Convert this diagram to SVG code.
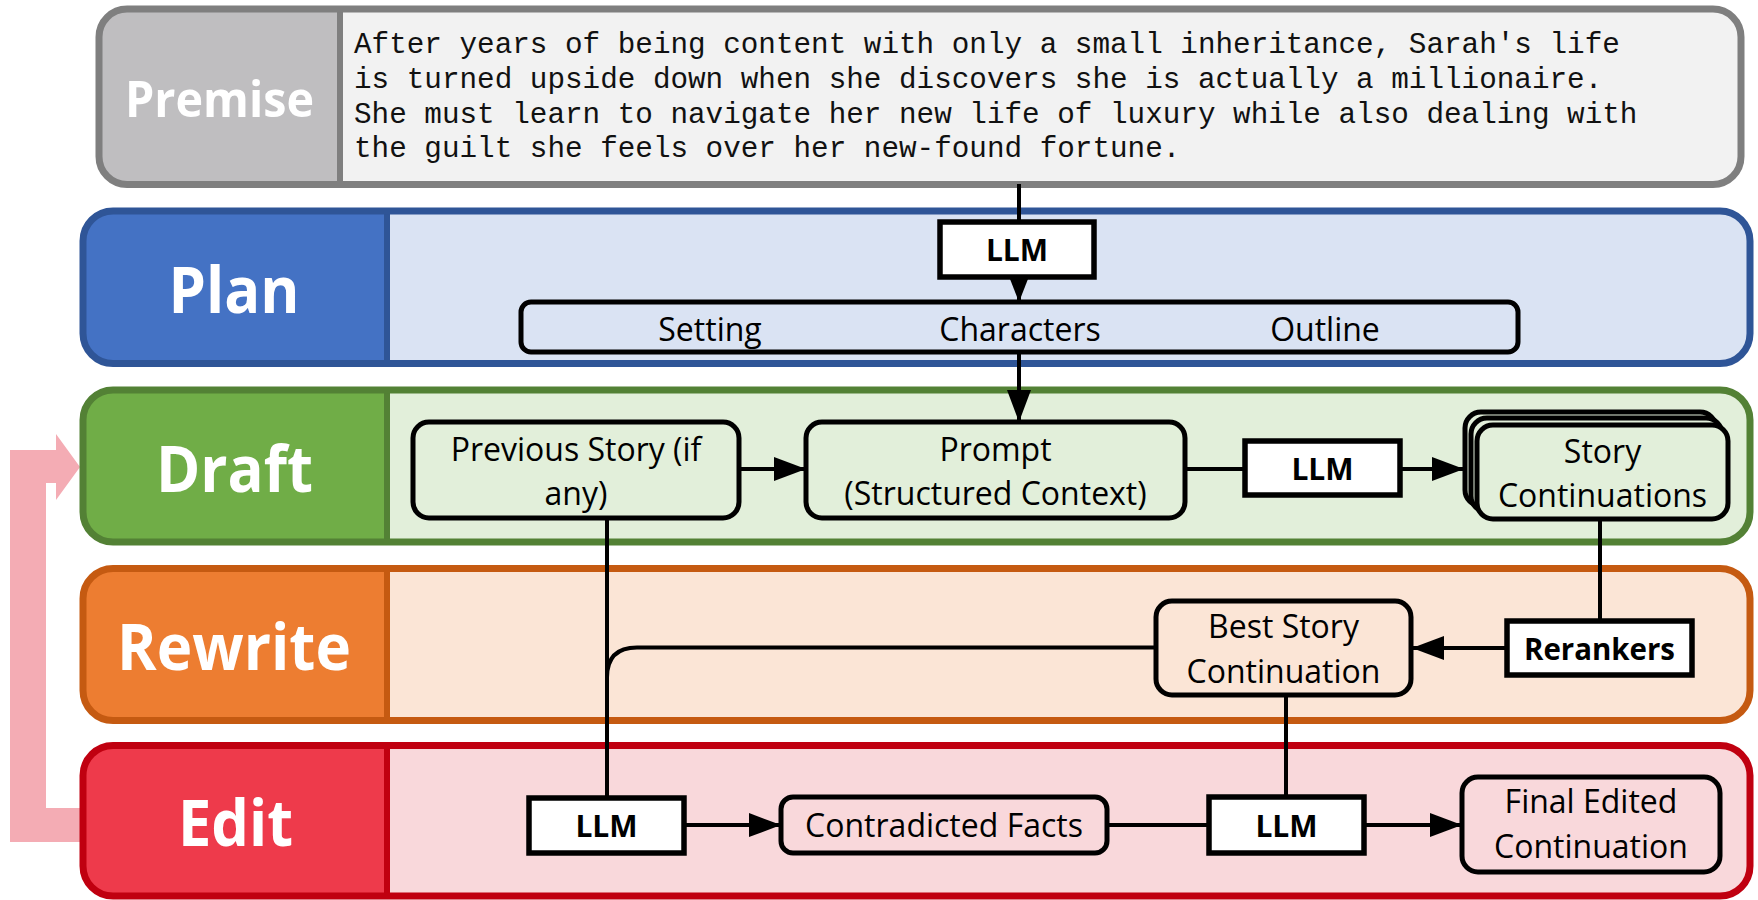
<svg xmlns="http://www.w3.org/2000/svg" width="1758" height="900" viewBox="0 0 1758 900">
  <style>
    .lbl { font-family: "Open Sans", "Noto Sans", "Liberation Sans", sans-serif; font-weight: 700; fill: #FFFFFF; text-anchor: middle; }
    .txt { font-family: "Open Sans", "Noto Sans", "Liberation Sans", sans-serif; font-size: 32px; fill: #000000; text-anchor: middle; }
    .bold { font-family: "Open Sans", "Noto Sans", "Liberation Sans", sans-serif; font-size: 30px; font-weight: 700; fill: #000000; text-anchor: middle; }
    .mono { font-family: "Liberation Mono", "DejaVu Sans Mono", monospace; font-size: 29.3px; fill: #111111; }
    .frame { fill: none; stroke-width: 7; }
    .box { stroke: #000000; stroke-width: 5; }
    .llm { fill: #FFFFFF; stroke: #000000; stroke-width: 5.5; }
    .conn { fill: none; stroke: #000000; stroke-width: 4; }
  </style>
  <defs>
    <marker id="arrow" markerUnits="userSpaceOnUse" markerWidth="32" markerHeight="24" refX="32" refY="12" orient="auto">
      <path d="M0,0 L32,12 L0,24 Z" fill="#000000"/>
    </marker>
    <marker id="arrowSmall" markerUnits="userSpaceOnUse" markerWidth="23" markerHeight="18" refX="23" refY="9" orient="auto">
      <path d="M0,0 L23,9 L0,18 Z" fill="#000000"/>
    </marker>
  </defs>

  <!-- feedback loop from Edit back to Draft -->
  <g id="loop">
    <polygon points="81,808 46,808 46,483 56,483 56,500 80,467 56,434 56,450 10,450 10,842 81,842" fill="#F4ACB4"/>
  </g>

  <!-- stage panels -->
  <g id="premise">
    <rect x="99" y="9" width="1642" height="175.5" rx="28" fill="#F2F2F2"/>
    <path d="M340 9 H127 A28 28 0 0 0 99 37 V156.5 A28 28 0 0 0 127 184.5 H340 Z" fill="#BFBEC0"/>
    <line x1="340" y1="9" x2="340" y2="184.5" stroke="#7F7F7F" stroke-width="6"/>
    <rect class="frame" x="99" y="9" width="1642" height="175.5" rx="28" stroke="#7F7F7F"/>
    <text class="lbl" x="219.5" y="117" font-size="50" textLength="189" lengthAdjust="spacingAndGlyphs">Premise</text>
    <text class="mono" x="354" y="53">After years of being content with only a small inheritance, Sarah's life</text>
    <text class="mono" x="354" y="88">is turned upside down when she discovers she is actually a millionaire.</text>
    <text class="mono" x="354" y="122.5">She must learn to navigate her new life of luxury while also dealing with</text>
    <text class="mono" x="354" y="157">the guilt she feels over her new-found fortune.</text>
  </g>

  <g id="plan">
    <rect x="83" y="211" width="1667" height="152.5" rx="30" fill="#DAE3F3"/>
    <path d="M387 211 H113 A30 30 0 0 0 83 241 V333.5 A30 30 0 0 0 113 363.5 H387 Z" fill="#4472C4"/>
    <line x1="387" y1="211" x2="387" y2="363.5" stroke="#2F5597" stroke-width="6"/>
    <rect class="frame" x="83" y="211" width="1667" height="152.5" rx="30" stroke="#2F5597"/>
    <text class="lbl" x="234" y="313" font-size="65" textLength="131" lengthAdjust="spacingAndGlyphs">Plan</text>
  </g>

  <g id="draft">
    <rect x="83" y="390" width="1667" height="152" rx="30" fill="#E2EFDA"/>
    <path d="M387 390 H113 A30 30 0 0 0 83 420 V512 A30 30 0 0 0 113 542 H387 Z" fill="#70AD47"/>
    <line x1="387" y1="390" x2="387" y2="542" stroke="#538135" stroke-width="6"/>
    <rect class="frame" x="83" y="390" width="1667" height="152" rx="30" stroke="#538135"/>
    <text class="lbl" x="234.5" y="492" font-size="65" textLength="157" lengthAdjust="spacingAndGlyphs">Draft</text>
  </g>

  <g id="rewrite">
    <rect x="83" y="568.5" width="1667" height="152" rx="30" fill="#FBE5D6"/>
    <path d="M387 568.5 H113 A30 30 0 0 0 83 598.5 V690.5 A30 30 0 0 0 113 720.5 H387 Z" fill="#ED7D31"/>
    <line x1="387" y1="568.5" x2="387" y2="720.5" stroke="#C55A11" stroke-width="6"/>
    <rect class="frame" x="83" y="568.5" width="1667" height="152" rx="30" stroke="#C55A11"/>
    <text class="lbl" x="234" y="670" font-size="65" textLength="234" lengthAdjust="spacingAndGlyphs">Rewrite</text>
  </g>

  <g id="edit">
    <rect x="83" y="745.5" width="1667" height="150.5" rx="30" fill="#F9D8DB"/>
    <path d="M387 745.5 H113 A30 30 0 0 0 83 775.5 V866 A30 30 0 0 0 113 896 H387 Z" fill="#EE3A4B"/>
    <line x1="387" y1="745.5" x2="387" y2="896" stroke="#C00010" stroke-width="6"/>
    <rect class="frame" x="83" y="745.5" width="1667" height="150.5" rx="30" stroke="#C00010"/>
    <text class="lbl" x="235.5" y="846" font-size="65" textLength="115" lengthAdjust="spacingAndGlyphs">Edit</text>
  </g>

  <!-- connectors -->
  <g id="connectors">
    <path class="conn" d="M1019 184 V222"/>
    <path class="conn" d="M1019 277 V302" marker-end="url(#arrowSmall)"/>
    <path class="conn" d="M1019 352 V422" marker-end="url(#arrow)"/>
    <path class="conn" d="M739 469 H806" marker-end="url(#arrow)"/>
    <path class="conn" d="M1185 469 H1245"/>
    <path class="conn" d="M1400 469 H1464" marker-end="url(#arrow)"/>
    <path class="conn" d="M1600 519 V621"/>
    <path class="conn" d="M1507 648 H1412" marker-end="url(#arrow)"/>
    <path class="conn" d="M1156 647.5 H637 Q607 647.5 607 677.5"/>
    <path class="conn" d="M607 518 V798"/>
    <path class="conn" d="M1286 695 V797"/>
    <path class="conn" d="M684 825 H781" marker-end="url(#arrow)"/>
    <path class="conn" d="M1107 825 H1209"/>
    <path class="conn" d="M1364 825 H1462" marker-end="url(#arrow)"/>
  </g>

  <!-- nodes -->
  <g id="plan-llm">
    <rect class="llm" x="940" y="222" width="154" height="55"/>
    <text class="bold" x="1017" y="261">LLM</text>
  </g>

  <g id="plan-output">
    <rect class="box" x="521" y="302" width="997" height="50" rx="10" fill="#DAE3F3"/>
    <text class="txt" x="710" y="341">Setting</text>
    <text class="txt" x="1020" y="341">Characters</text>
    <text class="txt" x="1325" y="341">Outline</text>
  </g>

  <g id="previous-story">
    <rect class="box" x="413" y="422" width="326" height="96" rx="16" fill="#E2EFDA"/>
    <text class="txt" x="576" y="461">Previous Story (if</text>
    <text class="txt" x="576" y="505">any)</text>
  </g>

  <g id="prompt">
    <rect class="box" x="806" y="422" width="379" height="96" rx="16" fill="#E2EFDA"/>
    <text class="txt" x="995.5" y="461">Prompt</text>
    <text class="txt" x="995.5" y="505">(Structured Context)</text>
  </g>

  <g id="draft-llm">
    <rect class="llm" x="1245" y="441" width="155" height="54"/>
    <text class="bold" x="1322.5" y="480">LLM</text>
  </g>

  <g id="story-continuations">
    <rect class="box" x="1465" y="412" width="251" height="94" rx="16" fill="#E2EFDA"/>
    <rect class="box" x="1471" y="418" width="251" height="94" rx="16" fill="#E2EFDA"/>
    <rect class="box" x="1477" y="425" width="251" height="94" rx="16" fill="#E2EFDA"/>
    <text class="txt" x="1602.5" y="463">Story</text>
    <text class="txt" x="1602.5" y="507">Continuations</text>
  </g>

  <g id="rerankers">
    <rect class="llm" x="1507" y="621" width="185" height="54"/>
    <text class="bold" x="1599.5" y="660" textLength="151" lengthAdjust="spacingAndGlyphs">Rerankers</text>
  </g>

  <g id="best-story">
    <rect class="box" x="1156" y="601" width="255" height="94" rx="16" fill="#FBE5D6"/>
    <text class="txt" x="1283.5" y="638">Best Story</text>
    <text class="txt" x="1283.5" y="683">Continuation</text>
  </g>

  <g id="edit-llm">
    <rect class="llm" x="529" y="798" width="155" height="55"/>
    <text class="bold" x="606.5" y="837">LLM</text>
  </g>

  <g id="contradicted-facts">
    <rect class="box" x="781" y="797" width="326" height="56" rx="12" fill="#F9D8DB"/>
    <text class="txt" x="944" y="837">Contradicted Facts</text>
  </g>

  <g id="edit-llm-2">
    <rect class="llm" x="1209" y="797" width="155" height="56"/>
    <text class="bold" x="1286.5" y="837">LLM</text>
  </g>

  <g id="final-edited">
    <rect class="box" x="1462" y="777" width="258" height="95" rx="16" fill="#F9D8DB"/>
    <text class="txt" x="1591" y="813">Final Edited</text>
    <text class="txt" x="1591" y="858">Continuation</text>
  </g>
</svg>
